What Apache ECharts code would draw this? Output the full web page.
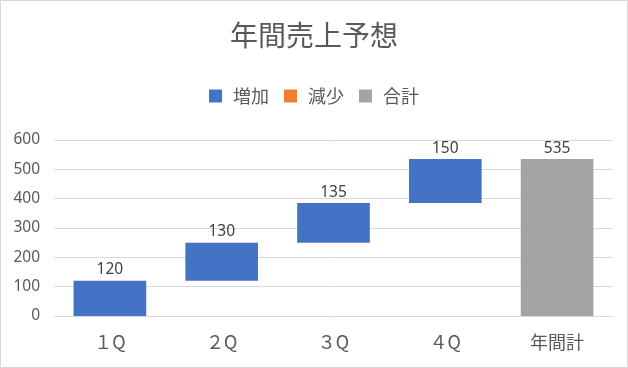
<!DOCTYPE html>
<html><head><meta charset="utf-8">
<script src="https://cdn.jsdelivr.net/npm/echarts@6/dist/echarts.min.js"></script>
<style>html,body{margin:0;padding:0;background:#fff}#c{width:628px;height:368px}</style>
</head><body><div id="c"></div>
<script>
const categories = ['１Q', '２Q', '３Q', '４Q', '年間計'];
const increase = [120, 130, 135, 150, null];
const decrease = [null, null, null, null, null];
const total = [null, null, null, null, 535];
const yTicks = [0, 100, 200, 300, 400, 500, 600];

// invisible base for waterfall stacking
const base = [];
let run = 0;
for (let i = 0; i < categories.length; i++) {
  if (increase[i] != null) { base.push(run); run += increase[i]; }
  else if (decrease[i] != null) { run -= decrease[i]; base.push(run); }
  else base.push(0);
}

const cjk = '"Noto Sans CJK JP", sans-serif';
const num = '"Noto Sans", "Noto Sans CJK JP", sans-serif';
const chart = echarts.init(document.getElementById('c'));
chart.setOption({
  animation: false,
  textStyle: { fontFamily: cjk },
  title: { text: '年間売上予想', left: 'center', top: 16,
    textStyle: { fontSize: 28, fontWeight: 'normal', color: '#595959', fontFamily: cjk } },
  legend: { top: 82, left: 'center', itemWidth: 13, itemHeight: 13, itemGap: 15, icon: 'rect',
    data: ['増加', '減少', '合計'],
    textStyle: { fontSize: 18, color: '#595959', fontFamily: cjk, padding: [0, 0, 0, 6] } },
  grid: { left: 54, right: 15, top: 140, bottom: 52, containLabel: false },
  xAxis: { type: 'category', data: categories,
    axisLine: { lineStyle: { color: '#d9d9d9' } }, axisTick: { show: false },
    axisLabel: { fontSize: 18, color: '#595959', margin: 17, fontFamily: cjk } },
  yAxis: { type: 'value', min: yTicks[0], max: yTicks[yTicks.length - 1], interval: 100,
    axisLine: { show: false }, axisTick: { show: false },
    splitLine: { lineStyle: { color: '#d9d9d9' } },
    axisLabel: { fontSize: 15.5, color: '#595959', margin: 14, fontFamily: num } },
  series: [
    { name: 'base', type: 'bar', stack: 'w', data: base, barWidth: '65%',
      itemStyle: { color: 'transparent' }, silent: true, tooltip: { show: false } },
    { name: '増加', type: 'bar', stack: 'w', data: increase, itemStyle: { color: '#4472C4' },
      label: { show: true, position: 'top', fontSize: 15.5, color: '#404040', distance: 3, fontFamily: num } },
    { name: '減少', type: 'bar', stack: 'w', data: decrease, itemStyle: { color: '#ED7D31' },
      label: { show: true, position: 'top', fontSize: 15.5, color: '#404040', fontFamily: num } },
    { name: '合計', type: 'bar', stack: 'w', data: total, itemStyle: { color: '#a3a3a3' },
      label: { show: true, position: 'top', fontSize: 15.5, color: '#404040', distance: 3, fontFamily: num } }
  ],
  graphic: [{ type: 'rect', shape: { x: 0.5, y: 0.5, width: 627, height: 367 },
    style: { fill: 'none', stroke: '#d9d9d9', lineWidth: 1 }, silent: true }]
});
</script></body></html>
